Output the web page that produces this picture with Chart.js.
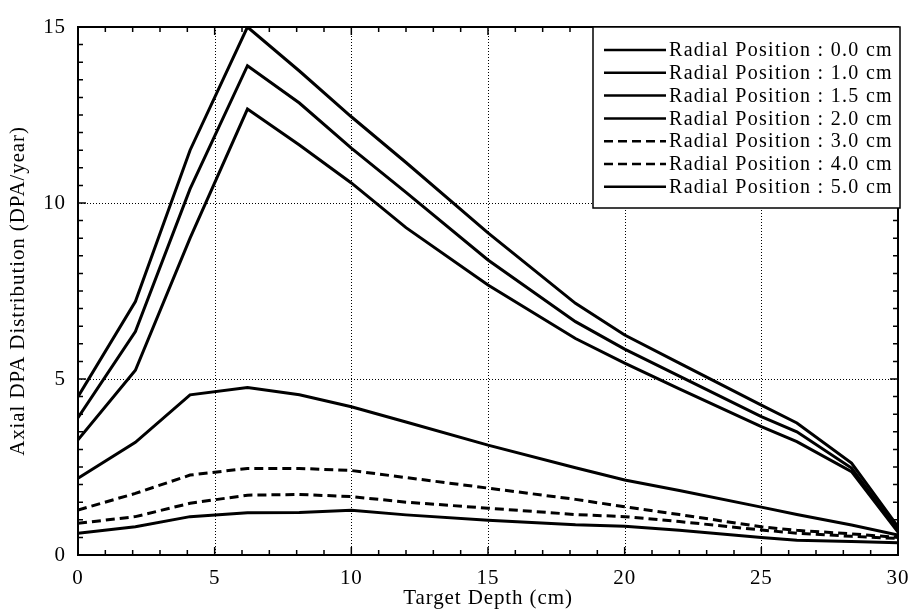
<!DOCTYPE html>
<html>
<head>
<meta charset="utf-8">
<script src="https://cdn.jsdelivr.net/npm/chart.js@4"></script>
<style>
  html, body { margin: 0; padding: 0; background: #fff; }
  #wrap { width: 913px; height: 611px; }
</style>
</head>
<body>
<div id="wrap"><canvas id="dpa"></canvas></div>
<script>
"use strict";

// depth positions (cm) where the curves were read
const depths = [0, 2.1, 4.1, 6.2, 8.1, 10, 12, 15, 18.2, 20, 22, 25, 26.3, 28.3, 30];
const radii = ["0.0", "1.0", "1.5", "2.0", "3.0", "4.0", "5.0"];
const r00 = [4.5, 7.2, 11.5, 15.0, 13.75, 12.45, 11.15, 9.15, 7.15, 6.25, 5.45, 4.26, 3.75, 2.61, 0.8];
const r10 = [3.9, 6.35, 10.4, 13.9, 12.84, 11.56, 10.3, 8.38, 6.63, 5.85, 5.08, 3.93, 3.5, 2.47, 0.7];
const r15 = [3.27, 5.25, 9.0, 12.67, 11.65, 10.57, 9.3, 7.67, 6.15, 5.45, 4.72, 3.65, 3.22, 2.37, 0.65];
const r20 = [2.18, 3.2, 4.55, 4.76, 4.55, 4.21, 3.78, 3.12, 2.48, 2.13, 1.83, 1.36, 1.15, 0.85, 0.57];
const r30 = [1.28, 1.75, 2.27, 2.46, 2.46, 2.4, 2.2, 1.9, 1.58, 1.37, 1.15, 0.8, 0.7, 0.6, 0.5];
const r40 = [0.9, 1.09, 1.47, 1.7, 1.72, 1.66, 1.5, 1.33, 1.15, 1.09, 0.95, 0.71, 0.62, 0.53, 0.47];
const r50 = [0.62, 0.8, 1.09, 1.2, 1.21, 1.27, 1.14, 0.99, 0.86, 0.82, 0.7, 0.5, 0.42, 0.38, 0.35];
const xTicks = [0, 5, 10, 15, 20, 25, 30];
const yTicks = [0, 5, 10, 15];

const series = [r00, r10, r15, r20, r30, r40, r50];
const dashed = [false, false, false, false, true, true, false];
const FONT = "'Liberation Serif', 'Times New Roman', serif";

// the scanned original uses a wide serif face; loosen the letters a bit
const spacing = {
  id: "spacing",
  beforeDraw(chart) { chart.ctx.letterSpacing = "0.9px"; },
};

// dotted grid at major ticks, inward minor ticks on all four sides
const frame = {
  id: "frame",
  beforeDatasetsDraw(chart) {
    const { ctx, chartArea: a, scales: { x, y } } = chart;
    ctx.save();
    ctx.strokeStyle = "#000";
    ctx.lineWidth = 1;
    ctx.setLineDash([1, 2]);
    xTicks.slice(1, -1).forEach((v) => {
      const px = Math.round(x.getPixelForValue(v)) + 0.5;
      ctx.beginPath(); ctx.moveTo(px, a.top); ctx.lineTo(px, a.bottom); ctx.stroke();
    });
    yTicks.slice(1, -1).forEach((v) => {
      const py = Math.round(y.getPixelForValue(v)) + 0.5;
      ctx.beginPath(); ctx.moveTo(a.left, py); ctx.lineTo(a.right, py); ctx.stroke();
    });
    ctx.setLineDash([]);
    ctx.lineWidth = 1.5;
    for (let v = 1; v < 30; v++) {
      const px = x.getPixelForValue(v);
      const len = v % 5 === 0 ? 8 : 5;
      ctx.beginPath();
      ctx.moveTo(px, a.bottom); ctx.lineTo(px, a.bottom - len);
      ctx.moveTo(px, a.top); ctx.lineTo(px, a.top + len);
      ctx.stroke();
    }
    for (let v = 0.5; v < 15; v += 0.5) {
      const py = y.getPixelForValue(v);
      const len = v % 5 === 0 ? 8 : 5;
      ctx.beginPath();
      ctx.moveTo(a.left, py); ctx.lineTo(a.left + len, py);
      ctx.moveTo(a.right, py); ctx.lineTo(a.right - len, py);
      ctx.stroke();
    }
    ctx.restore();
  },
  afterDatasetsDraw(chart) {
    const { ctx, chartArea: a } = chart;
    ctx.save();
    ctx.strokeStyle = "#000";
    ctx.lineWidth = 2;
    ctx.strokeRect(a.left, a.top, a.right - a.left, a.bottom - a.top);
    ctx.restore();
  },
};

// boxed legend in the top-right corner of the plot
const boxLegend = {
  id: "boxLegend",
  afterDraw(chart) {
    const { ctx, chartArea: a } = chart;
    const w = 307, h = 181;
    const left = a.right - w + 2, top = a.top;
    ctx.save();
    ctx.fillStyle = "#fff";
    ctx.fillRect(left, top, w, h);
    ctx.strokeStyle = "#000";
    ctx.lineWidth = 1.5;
    ctx.strokeRect(left, top, w, h);
    ctx.font = "20px " + FONT;
    ctx.letterSpacing = "1.3px";
    ctx.fillStyle = "#000";
    ctx.textBaseline = "middle";
    chart.data.datasets.forEach((ds, i) => {
      const yy = top + 23 + i * 22.8;
      ctx.lineWidth = 2.5;
      ctx.setLineDash(ds.borderDash || []);
      ctx.beginPath(); ctx.moveTo(left + 11, yy); ctx.lineTo(left + 73, yy); ctx.stroke();
      ctx.setLineDash([]);
      ctx.fillText(ds.label, left + 76, yy + 1);
    });
    ctx.restore();
  },
};

new Chart(document.getElementById("dpa"), {
  type: "line",
  data: {
    datasets: series.map((vals, i) => ({
      label: "Radial Position : " + radii[i] + " cm",
      data: depths.map((d, j) => ({ x: d, y: vals[j] })),
      borderColor: "#000",
      borderWidth: 3,
      borderDash: dashed[i] ? [9, 5] : [],
      pointRadius: 0,
      tension: 0,
      fill: false,
    })),
  },
  options: {
    responsive: true,
    maintainAspectRatio: false,
    animation: false,
    layout: { padding: { top: 27, right: 15, left: 0, bottom: 0 } },
    plugins: { legend: { display: false }, tooltip: { enabled: false } },
    scales: {
      x: {
        type: "linear", min: 0, max: 30,
        afterBuildTicks: (s) => { s.ticks = xTicks.map((v) => ({ value: v })); },
        afterFit: (s) => { s.height = 56; },
        grid: { display: false },
        border: { display: false },
        ticks: { color: "#000", padding: 3, font: { family: FONT, size: 21 } },
        title: { display: true, text: "Target Depth (cm)", color: "#000",
                 padding: { top: 0, bottom: 0 }, font: { family: FONT, size: 21 } },
      },
      y: {
        type: "linear", min: 0, max: 15,
        afterBuildTicks: (s) => { s.ticks = yTicks.map((v) => ({ value: v })); },
        afterFit: (s) => { s.width = 78; },
        grid: { display: false },
        border: { display: false },
        ticks: { color: "#000", padding: 4, font: { family: FONT, size: 21 } },
        title: { display: true, text: "Axial DPA Distribution (DPA/year)", color: "#000",
                 padding: { top: 6, bottom: 0 }, font: { family: FONT, size: 21 } },
      },
    },
  },
  plugins: [spacing, frame, boxLegend],
});
</script>
</body>
</html>
